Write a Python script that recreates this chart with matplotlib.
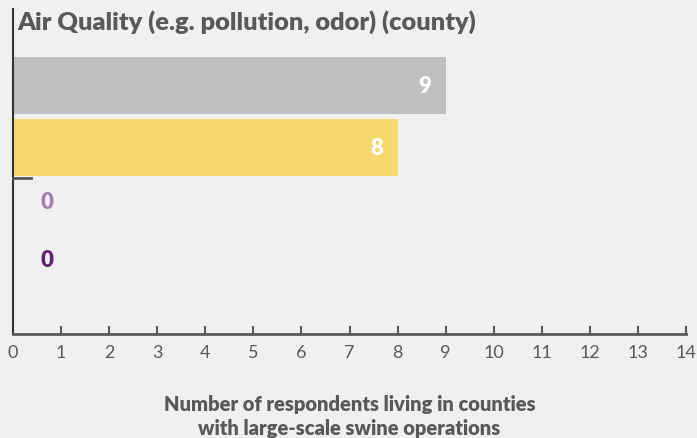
import matplotlib
matplotlib.use("Agg")
import matplotlib.pyplot as plt

title = "Air Quality (e.g. pollution, odor) (county)"
series = ["Series A", "Series B", "Series C", "Series D"]
values = [9, 8, 0, 0]
colors = ["#bebfc1", "#f5d86e", "#a47db5", "#62236e"]
label_colors = ["#ffffff", "#ffffff", "#a47db5", "#62236e"]
xticks = list(range(0, 15))
xlabel = "Number of respondents living in counties\nwith large-scale swine operations"

plt.rcParams['font.family'] = ['Lato', 'DejaVu Sans']
bg = "#f0f0f0"
txt = "#58595b"

fig = plt.figure(figsize=(6.97, 4.39), dpi=100, facecolor=bg)
W, H = 697, 439
ax = fig.add_axes([13 / W, 1 - 335 / H, (686 - 13) / W, (335 - 10) / H], facecolor=bg)

pos = list(range(len(values)))
ax.barh(pos, values, height=0.92, color=colors, zorder=2)
ax.set_ylim(4.01, -1.23)
ax.set_xlim(0, 14)

zero_shift = [0, 0, -0.12, -0.19]
for p, v, c, s in zip(pos, values, label_colors, zero_shift):
    if v > 0:
        ax.text(v - 0.3, p, str(v), ha="right", va="center", color=c,
                fontsize=16, fontweight="heavy")
    else:
        ax.text(0.7, p + s, str(v), ha="center", va="center", color=c,
                fontsize=16, fontweight="heavy")

ax.plot([0, 0.38], [1.5, 1.5], color="#58595b", lw=2, zorder=3, clip_on=False)

for s in ["top", "right"]:
    ax.spines[s].set_visible(False)
ax.spines["left"].set_color("#333333")
ax.spines["left"].set_linewidth(1.5)
ax.spines["bottom"].set_color(txt)
ax.spines["bottom"].set_linewidth(2)
ax.set_yticks([])
ax.set_xticks(xticks)
ax.set_xticklabels([str(t) for t in xticks])
ax.tick_params(axis="x", direction="in", length=6, width=1.5, color=txt,
               labelcolor=txt, labelsize=13, pad=7)
ax.set_xlabel(xlabel, fontsize=14.5, fontweight="heavy", color=txt, labelpad=25,
              linespacing=1.3)

fig.text(17 / W, 1 - 22 / H, title, ha="left", va="center", fontsize=18.3,
         fontweight="heavy", color=txt)

fig.savefig("out.png", dpi=100, facecolor=bg)
